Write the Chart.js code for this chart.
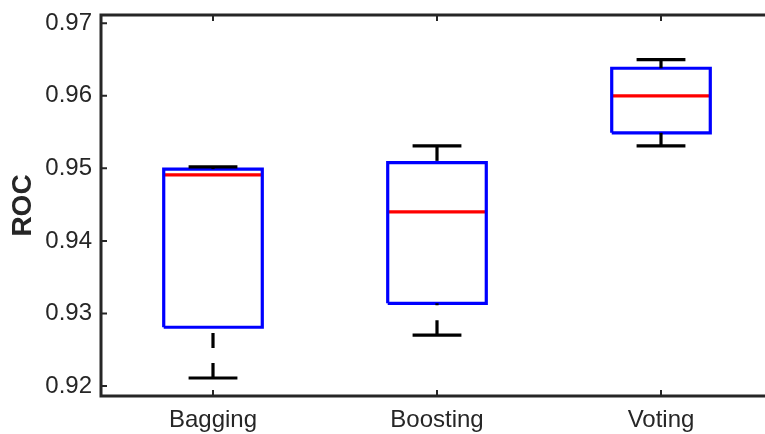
<!DOCTYPE html>
<html>
<head>
<meta charset="utf-8">
<script src="https://cdn.jsdelivr.net/npm/chart.js@4"></script>
<style>
  html, body { margin: 0; padding: 0; background: #fff; overflow: hidden; }
  #wrap { width: 765px; height: 434px; overflow: hidden; }
</style>
</head>
<body>
<div id="wrap"><canvas id="chart" width="775" height="434"></canvas></div>
<script>
// box plot summary per method
const categories = ['Bagging', 'Boosting', 'Voting'];
const whiskerLow = [0.9211, 0.9270, 0.9531];
const q1 = [0.9281, 0.9314, 0.9549];
const median = [0.9491, 0.9440, 0.9600];
const q3 = [0.9499, 0.9508, 0.9638];
const whiskerHigh = [0.9502, 0.9531, 0.9650];
const yTicks = [0.92, 0.93, 0.94, 0.95, 0.96, 0.97];

const axisColor = '#262626';
const font = '"Liberation Sans", Arial, Helvetica, sans-serif';
const boxHalf = 0.22;
const capHalf = 0.109;

function seg(points, color, dash) {
  return {
    data: points,
    showLine: true,
    borderColor: color,
    borderWidth: 3.2,
    borderDash: dash || [],
    pointRadius: 0,
    pointHoverRadius: 0,
    fill: false,
    tension: 0
  };
}

const datasets = [];
categories.forEach((c, i) => {
  const x = i + 1;
  // whiskers drawn from the cap toward the box
  datasets.push(seg([{ x, y: whiskerHigh[i] }, { x, y: q3[i] }], '#000000', [15, 15]));
  datasets.push(seg([{ x, y: whiskerLow[i] }, { x, y: q1[i] }], '#000000', [15, 15]));
  datasets.push(seg([{ x: x - capHalf, y: whiskerHigh[i] }, { x: x + capHalf, y: whiskerHigh[i] }], '#000000'));
  datasets.push(seg([{ x: x - capHalf, y: whiskerLow[i] }, { x: x + capHalf, y: whiskerLow[i] }], '#000000'));
  datasets.push(seg([
    { x: x - boxHalf, y: q1[i] }, { x: x + boxHalf, y: q1[i] },
    { x: x + boxHalf, y: q3[i] }, { x: x - boxHalf, y: q3[i] },
    { x: x - boxHalf, y: q1[i] }
  ], '#0000ff'));
  datasets.push(seg([{ x: x - boxHalf, y: median[i] }, { x: x + boxHalf, y: median[i] }], '#ff0000'));
});

// MATLAB-like frame: top/right lines and inward ticks
const framePlugin = {
  id: 'frame',
  afterDatasetsDraw(chart) {
    const { ctx, chartArea: a, scales } = chart;
    ctx.save();
    ctx.strokeStyle = axisColor;
    ctx.lineWidth = 3;
    ctx.beginPath();
    ctx.moveTo(a.left, a.top); ctx.lineTo(a.right, a.top);
    ctx.moveTo(a.right, a.top); ctx.lineTo(a.right, a.bottom);
    ctx.moveTo(a.left, a.top - 1.5); ctx.lineTo(a.left, a.bottom + 1.5);
    ctx.moveTo(a.left - 1.5, a.bottom); ctx.lineTo(a.right, a.bottom);
    ctx.stroke();
    ctx.lineWidth = 2;
    ctx.beginPath();
    scales.y.ticks.forEach(t => {
      const py = scales.y.getPixelForValue(t.value);
      ctx.moveTo(a.left, py); ctx.lineTo(a.left + 6, py);
      ctx.moveTo(a.right, py); ctx.lineTo(a.right - 6, py);
    });
    scales.x.ticks.forEach(t => {
      const px = scales.x.getPixelForValue(t.value);
      ctx.moveTo(px, a.bottom); ctx.lineTo(px, a.bottom - 6);
      ctx.moveTo(px, a.top); ctx.lineTo(px, a.top + 6);
    });
    ctx.stroke();
    ctx.restore();
  }
};

new Chart(document.getElementById('chart'), {
  type: 'scatter',
  data: { datasets },
  plugins: [framePlugin],
  options: {
    responsive: false,
    animation: false,
    layout: { padding: { top: 15, right: 2, bottom: 0, left: 0 } },
    plugins: {
      legend: { display: false },
      tooltip: { enabled: false }
    },
    scales: {
      x: {
        type: 'linear',
        min: 0.5,
        max: 3.5,
        afterBuildTicks(scale) {
          scale.ticks = categories.map((c, i) => ({ value: i + 1 }));
        },
        afterFit(scale) {
          scale.height = 38;
          scale.paddingLeft = 0;
          scale.paddingRight = 0;
        },
        ticks: {
          callback: v => categories[v - 1],
          color: axisColor,
          font: { family: font, size: 24 },
          padding: 10,
          maxRotation: 0
        },
        grid: { display: false, drawTicks: false },
        border: { display: false }
      },
      y: {
        min: 0.91862,
        max: 0.97114,
        afterBuildTicks(scale) {
          scale.ticks = yTicks.map(v => ({ value: v }));
        },
        afterFit(scale) {
          scale.width = 101;
          scale.paddingTop = 0;
          scale.paddingBottom = 0;
        },
        ticks: {
          callback: v => v.toFixed(2),
          color: axisColor,
          font: { family: font, size: 24 },
          padding: 9
        },
        title: {
          display: true,
          text: 'ROC',
          color: axisColor,
          font: { family: font, size: 28, weight: 'bold' },
          padding: { top: 6, bottom: 0 }
        },
        grid: { display: false, drawTicks: false },
        border: { display: false }
      }
    }
  }
});
</script>
</body>
</html>
